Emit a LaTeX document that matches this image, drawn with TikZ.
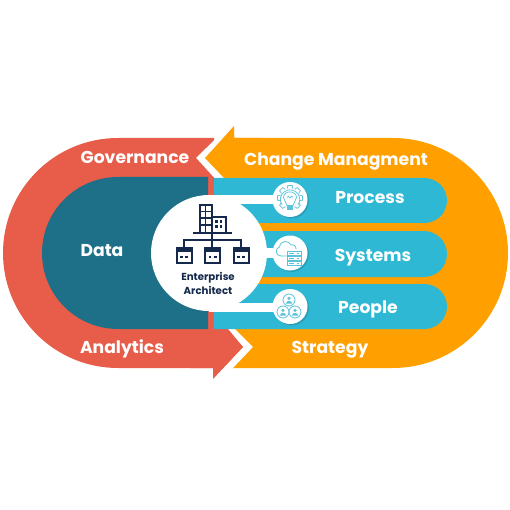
\documentclass[tikz,border=0pt]{standalone}
\usepackage{fontspec}
\setmainfont{Poppins}
\definecolor{redc}{HTML}{E85C4A}
\definecolor{orangec}{HTML}{FFA000}
\definecolor{tealc}{HTML}{1D7088}
\definecolor{bluec}{HTML}{2FB8D4}
\definecolor{navyc}{HTML}{14294B}
\definecolor{iconc}{HTML}{5CC3DA}
\tikzset{
  lbl/.style={text=white,font=\bfseries\fontsize{17.2}{20}\selectfont,inner sep=0pt,anchor=base},
  smalllbl/.style={text=navyc,font=\bfseries\fontsize{10.2}{13.5}\selectfont,inner sep=0pt,align=center},
  divider/.style={white,line width=7pt,line join=miter},
  navy/.style={navyc,line width=2pt},
  ico/.style={iconc,line width=.7pt},
}
\begin{document}
\begin{tikzpicture}[x=1pt,y=-1pt]
\useasboundingbox (0,0) rectangle (510,510);
% red body
\fill[redc] (214,138) -- (118,138) arc[start angle=90,end angle=270,radius=115pt] -- (214,368) -- cycle;
% orange shape
\fill[orangec] (205,158) -- (234,126) -- (234,138) -- (393,138) arc[start angle=90,end angle=-90,radius=115pt] -- (225,368) -- (225,177) -- (224,177) -- cycle;
\draw[divider] (240,120) -- (201,158) -- (222,181);
\fill[orangec] (205,158) -- (234,126) -- (234,138) -- (260,138) -- (260,178) -- (224,178) -- cycle;
% red arrow
\draw[divider] (226,325) -- (248,347) -- (212,385);
\fill[redc] (190,329) -- (228,329) -- (243,347) -- (213,379) -- (213,368) -- (190,368) -- cycle;
% teal
\fill[tealc] (208,177) -- (118,177) arc[start angle=90,end angle=270,radius=76pt] -- (208,329) -- cycle;
% blue bars
\fill[bluec] (214,178) -- (424.5,178) arc[start angle=90,end angle=-90,radius=22.5pt] -- (214,223) -- cycle;
\fill[bluec] (214,231) -- (424,231) arc[start angle=90,end angle=-90,radius=23pt] -- (214,277) -- cycle;
\fill[bluec] (214,284) -- (424.5,284) arc[start angle=90,end angle=-90,radius=22.5pt] -- (214,329) -- cycle;
% shadows
\foreach \yy in {199.5,253,306.5} \fill[black,opacity=.13] (291.5,\yy+1.5) circle (17.5pt);
% white hub
\fill[white] (209,253) circle (58pt);
\fill[white] (209,195) rectangle (285,204);
\fill[white] (250,248) rectangle (285,258);
\fill[white] (209,303) rectangle (285,311.5);
\fill[white] (290,199.5) circle (17.5pt);
\fill[white] (290,253) circle (17.5pt);
\fill[white] (290,306.5) circle (17.5pt);
% building icon
\draw[navy] (199.5,232) -- (199.5,205) -- (212,205) -- (212,232);
\draw[navy] (212,217) -- (226,217) -- (226,232);
\draw[navyc,line width=1.3pt] (199.5,211.5) -- (212,211.5) (199.5,218) -- (212,218) (199.5,225) -- (212,225) (205.7,205) -- (205.7,232);
\foreach \xx in {216.5,221}{\foreach \yy in {221.5,226.5}{\fill[navyc] (\xx-1.1,\yy-1.1) rectangle (\xx+1.1,\yy+1.1);}}
\draw[navy] (193,232.5) -- (232,232.5);
\draw[navyc,line width=1.6pt] (212,232.5) -- (212,240) (184,248) -- (184,240) -- (241,240) -- (241,248) (212,240) -- (212,248);
\foreach \xx in {176.5,205,233.5}{
  \draw[navy] (\xx,248) rectangle (\xx+15,263);
  \fill[navyc] (\xx,248) rectangle (\xx+15,251.5);
  \fill[navyc] (\xx+3.5,255.5) rectangle (\xx+6.3,258.3);
  \fill[navyc] (\xx+8.7,255.5) rectangle (\xx+11.5,258.3);
}
% gear icon
\draw[ico] (282,205) arc[start angle=214,end angle=-34,radius=9.7pt];
\foreach \a in {-135,-90,...,135}{\draw[ico,rotate around={\a:(290,198)}] (287.2,188.7) -- (287.8,185.5) -- (292.2,185.5) -- (292.8,188.7);}
\draw[ico] (287,205.5) .. controls (287,202) and (283.5,201) .. (283.5,197.5) .. controls (283.5,190) and (296.5,190) .. (296.5,197.5) .. controls (296.5,201) and (293,202) .. (293,205.5) -- cycle;
\draw[ico] (287,197.5) -- (288.3,196.2) -- (290,198) -- (291.7,196.2) -- (293,197.5);
\fill[iconc] (287,206.5) rectangle (293,210);
% cloud + server icon
\draw[ico,line width=.8pt] (287,256) -- (281,256) .. controls (275,256) and (275,248) .. (279.5,247) .. controls (280.5,240) and (289,240) .. (291,245) .. controls (294,244) and (296,246) .. (296,249);
\foreach \yy in {251,256,261}{
  \draw[ico,fill=white,line width=.8pt] (287,\yy) rectangle (301,\yy+4.5);
  \fill[iconc] (289,\yy+1.7) rectangle (294,\yy+2.8);
  \fill[iconc] (297,\yy+1.7) rectangle (299,\yy+2.8);
}
% people icon
\foreach \cx/\cy in {289/300,283/312,295/312}{
  \draw[ico,fill=white,line width=.8pt] (\cx,\cy) circle (6pt);
  \fill[iconc] (\cx,\cy-1.6) circle (1.8pt);
  \fill[iconc] (\cx-3.2,\cy+3.6) .. controls (\cx-3,\cy) and (\cx+3,\cy) .. (\cx+3.2,\cy+3.6) -- cycle;
}
% labels
\node[lbl] (gov) at (135,164) {Governance};
\node[lbl] (chg) at (336,166) {Change Managment};
\node[lbl] (pro) at (370,204) {Process};
\node[lbl] (sys) at (373,261) {Systems};
\node[lbl] (peo) at (368,313) {People};
\node[lbl] (dat) at (102,256) {Data};
\node[lbl] (ana) at (122,353) {Analytics};
\node[lbl] (str) at (330,353) {Strategy};
\node[smalllbl] (ea) at (208,283.5) {Enterprise\\Architect};
\end{tikzpicture}
\end{document}
